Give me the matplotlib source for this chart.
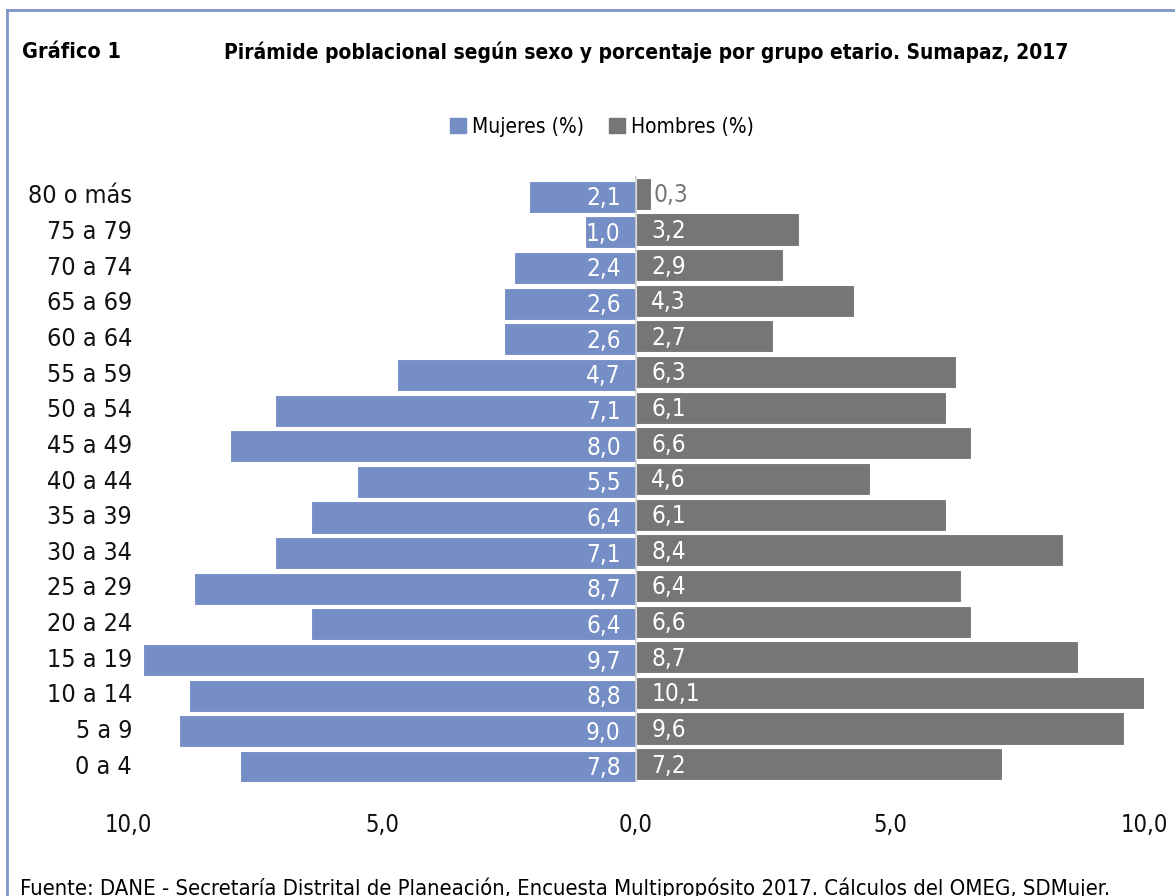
import matplotlib
matplotlib.use("Agg")
import matplotlib.pyplot as plt
from matplotlib.patches import Patch

# age groups, bottom to top
grupos = ["0 a 4", "5 a 9", "10 a 14", "15 a 19", "20 a 24", "25 a 29", "30 a 34",
          "35 a 39", "40 a 44", "45 a 49", "50 a 54", "55 a 59", "60 a 64",
          "65 a 69", "70 a 74", "75 a 79", "80 o más"]
mujeres = [7.8, 9.0, 8.8, 9.7, 6.4, 8.7, 7.1, 6.4, 5.5, 8.0, 7.1, 4.7, 2.6, 2.6, 2.4, 1.0, 2.1]
hombres = [7.2, 9.6, 10.1, 8.7, 6.6, 6.4, 8.4, 6.1, 4.6, 6.6, 6.1, 6.3, 2.7, 4.3, 2.9, 3.2, 0.3]
ticks = [-10, -5, 0, 5, 10]
tick_labels = ["10,0", "5,0", "0,0", "5,0", "10,0"]

AZUL = "#758EC6"
GRIS = "#767676"
MARCO = "#7F95C9"

# condensed DejaVu is the closest thing to the narrow font of the original
plt.rcParams['font.family'] = ['DejaVu Sans']
plt.rcParams['font.stretch'] = 'condensed'

fig = plt.figure(figsize=(11.75, 8.96), dpi=100)
ax = fig.add_axes([128 / 1175, 1 - 782 / 896, (1144 - 128) / 1175, (782 - 176) / 896])

y = list(range(len(grupos)))
yb = [v - 0.08 for v in y]
ax.barh(yb, [-m for m in mujeres], height=0.9, color=AZUL, edgecolor="white", linewidth=0.8)
ax.barh(y, hombres, height=0.9, color=GRIS, edgecolor="white", linewidth=0.8)

def fmt(v):
    return f"{v:.1f}".replace(".", ",")

for yi, m in zip(yb, mujeres):
    ax.text(-0.3, yi - 0.04, fmt(m), ha="right", va="center", color="white", fontsize=17.5)
for yi, h in zip(y, hombres):
    if h < 1:
        ax.text(h + 0.05, yi - 0.04, fmt(h), ha="left", va="center", color=GRIS, fontsize=17.5)
    else:
        ax.text(0.3, yi - 0.04, fmt(h), ha="left", va="center", color="white", fontsize=17.5)

ax.axvline(0, color="#d0d0d0", linewidth=1.2)
ax.set_xlim(-10, 10)
ax.set_ylim(-0.5, len(grupos) - 0.5)
ax.set_yticks(y)
ax.set_yticklabels(grupos, fontsize=18, color="#111111")
ax.set_xticks(ticks)
ax.set_xticklabels(tick_labels, fontsize=17, color="#111111")
ax.tick_params(length=0)
ax.tick_params(axis="y", pad=-3)
ax.tick_params(axis="x", pad=22)
for s in ax.spines.values():
    s.set_visible(False)

fig.text(22 / 1175, 1 - 52 / 896, "Gráfico 1", fontsize=15.5, fontweight="bold", va="center")
fig.text(646 / 1175, 1 - 52 / 896, "Pirámide poblacional según sexo y porcentaje por grupo etario. Sumapaz, 2017",
         fontsize=15, fontweight="bold", ha="center", va="center")

handles = [Patch(color=AZUL, label="Mujeres (%)"), Patch(color=GRIS, label="Hombres (%)")]
fig.legend(handles=handles, loc="center", bbox_to_anchor=(602 / 1175, 1 - 127 / 896), ncol=2,
           frameon=False, fontsize=15, handlelength=0.75, handleheight=0.75, handletextpad=0.3,
           columnspacing=1.2)

fig.text(20 / 1175, 1 - 888 / 896, "Fuente: DANE - Secretaría Distrital de Planeación, Encuesta Multipropósito 2017. Cálculos del OMEG, SDMujer.",
         fontsize=15.8, va="center")

# frame lines (left and top)
fig.add_artist(plt.Line2D([7 / 1175, 7 / 1175], [0, 1 - 10 / 896], color=MARCO, linewidth=2, transform=fig.transFigure))
fig.add_artist(plt.Line2D([7 / 1175, 1], [1 - 10 / 896, 1 - 10 / 896], color=MARCO, linewidth=2, transform=fig.transFigure))

fig.savefig("out.png", dpi=100)
